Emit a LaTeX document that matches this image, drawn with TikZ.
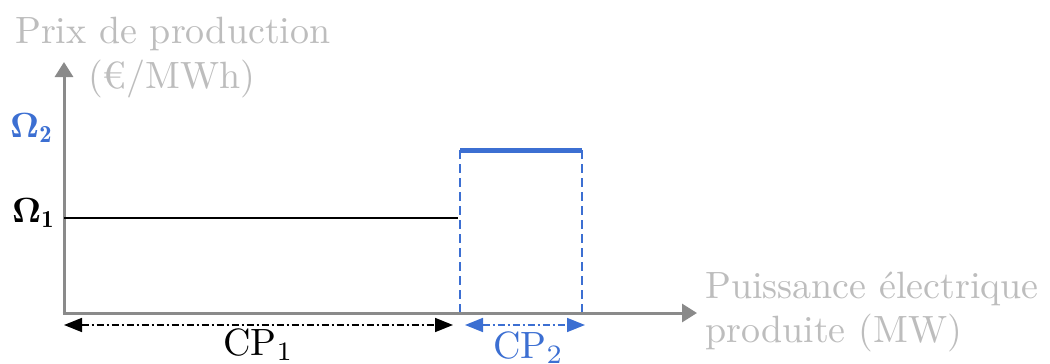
\documentclass[tikz,border=0pt]{standalone}
\usepackage{fontspec}
\usepackage{amsmath}
\usepackage{graphicx}
\usetikzlibrary{arrows.meta}
\definecolor{axisgray}{HTML}{8A8A8A}
\definecolor{txtgray}{HTML}{BDBDBD}
\definecolor{myblue}{HTML}{3C6FD2}
\newcommand{\sbx}[1]{\scalebox{3.8}{#1}}
\newcommand{\sbo}[1]{\scalebox{3.5}{#1}}
\tikzset{
  axis/.style={draw=axisgray, line width=3pt, -{Triangle[length=15pt,width=18pt]}},
  lbl/.style={inner sep=0pt, anchor=base west},
  dimarrow/.style={line width=1.6pt, dash pattern=on 7pt off 3pt on 2pt off 3pt, {Triangle[length=18pt,width=14pt]}-{Triangle[length=18pt,width=14pt]}},
}
\begin{document}
\begin{tikzpicture}[x=1pt,y=-1pt]
\useasboundingbox (0,0) rectangle (1050,364);
% axes
\coordinate (O) at (64,313);
\coordinate (ytip) at (64,62);
\coordinate (xtip) at (697,313);
\draw[axis] ([yshift=-1.5pt]O) -- (ytip);
\draw[axis] ([xshift=-1.5pt]O) -- (xtip);
% axis labels
\node[lbl, text=txtgray] (ylab1) at (15,43) {\sbx{Prix de production}};
\node[lbl, text=txtgray] (ylab2) at (88,88) {\sbx{(€/MWh)}};
\node[lbl, text=txtgray] (xlab1) at (705,298) {\sbx{Puissance électrique}};
\node[lbl, text=txtgray] (xlab2) at (705,342) {\sbx{produite (MW)}};
% Omega 1
\coordinate (o1a) at (64,218);
\coordinate (o1b) at (458,218);
\draw[line width=2pt] (o1a) -- (o1b);
\node[lbl] (om1) at (12,222) {\sbo{$\boldsymbol{\Omega}_{\mathbf 1}$}};
% Omega 2
\node[lbl, text=myblue] (om2) at (10,137) {\sbo{$\boldsymbol{\Omega}_{\mathbf 2}$}};
\coordinate (b1) at (460,150);
\coordinate (b2) at (582,150);
\coordinate (b1d) at (460,312);
\coordinate (b2d) at (582,312);
\draw[myblue, line width=1.6pt, dash pattern=on 9pt off 5pt] (b1) -- (b1d);
\draw[myblue, line width=1.6pt, dash pattern=on 9pt off 5pt] (b2) -- (b2d);
\draw[myblue, line width=5pt] (b1) -- (b2);
% CP1
\coordinate (c1a) at (64,325);
\coordinate (c1b) at (453,325);
\draw[dimarrow] (c1a) -- (c1b);
\node[lbl] (cp1) at (223,355) {\sbx{$\mathrm{CP}_1$}};
% CP2
\coordinate (c2a) at (465,325);
\coordinate (c2b) at (585,325);
\draw[dimarrow, myblue] (c2a) -- (c2b);
\node[lbl, text=myblue] (cp2) at (493,358) {\sbx{$\mathrm{CP}_2$}};
\end{tikzpicture}
\end{document}
